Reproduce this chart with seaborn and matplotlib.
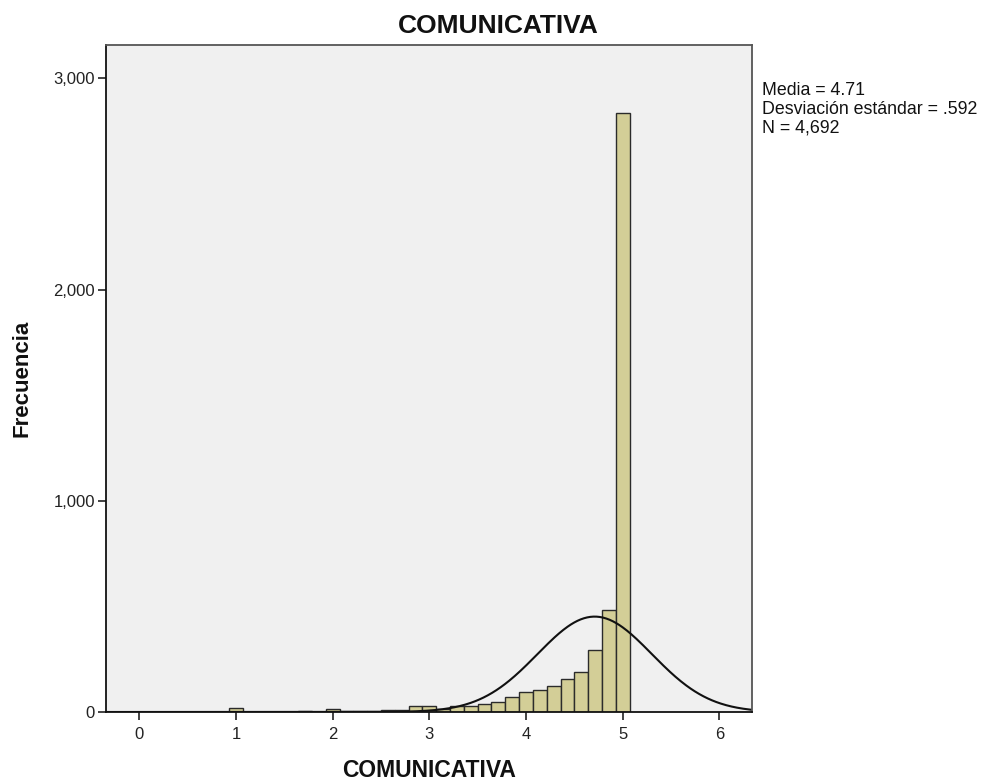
import numpy as np
import pandas as pd
import matplotlib
matplotlib.use("Agg")
import matplotlib.pyplot as plt
import seaborn as sns
from matplotlib.ticker import FuncFormatter

# ---- data ----
# scale scores are multiples of 1/7 from 1 to 5
score_steps = list(range(7, 36))  # k, score = k/7
counts = [21, 1, 1, 2, 2, 3, 2, 12, 3, 4, 7, 8, 10, 28,
          29, 15, 28, 30, 38, 45, 70, 96, 103, 125, 158, 191, 293, 485, 2837]
mean_val = 4.71
sd_val = 0.592
n_val = 4692
x_ticks = [0, 1, 2, 3, 4, 5, 6]
y_ticks = [0, 1000, 2000, 3000]
title_text = "COMUNICATIVA"
x_label = "COMUNICATIVA"
y_label = "Frecuencia"
stats_lines = ["Media = 4.71", "Desviación estándar = .592", "N = 4,692"]

scores = np.array(score_steps) / 7.0
width = 1 / 7.0
edges = [float(e) for e in np.append(scores - width / 2, scores[-1] + width / 2)]
df = pd.DataFrame({"score": scores, "count": np.array(counts, dtype=float)})

sns.set_theme(style="white")
plt.rcParams["font.family"] = ["Liberation Sans", "DejaVu Sans"]

fig = plt.figure(figsize=(9.84, 7.82), dpi=100)
ax = fig.add_axes([106 / 984, 1 - 712 / 782, (752 - 106) / 984, (712 - 45) / 782])
ax.set_facecolor("#F0F0F0")

sns.histplot(data=df, x="score", weights="count", bins=edges, ax=ax,
             color="#D3CE97", edgecolor="#2b2b2b", linewidth=1.0, alpha=1.0)

xmin, xmax = -0.344, 6.337
xs = np.linspace(xmin, xmax, 600)
ys = n_val * width * np.exp(-0.5 * ((xs - mean_val) / sd_val) ** 2) / (sd_val * np.sqrt(2 * np.pi))
ax.plot(xs, ys, color="#111111", linewidth=1.5)

ax.set_xlim(xmin, xmax)
ax.set_ylim(0, 3158)
ax.set_xticks(x_ticks)
ax.set_yticks(y_ticks)
ax.yaxis.set_major_formatter(FuncFormatter(lambda v, p: f"{int(v):,}"))
ax.tick_params(axis="both", which="both", direction="out", length=6, width=1.2,
               color="#222222", labelsize=12, labelcolor="#222222", bottom=True, left=True)
ax.tick_params(axis="x", pad=5)
ax.tick_params(axis="y", pad=2)

for side in ["left", "bottom"]:
    ax.spines[side].set_color("#111111")
    ax.spines[side].set_linewidth(1.3)
for side in ["top", "right"]:
    ax.spines[side].set_color("#555555")
    ax.spines[side].set_linewidth(1.3)

fig.text(498 / 984, 1 - 26 / 782, title_text, fontsize=19, fontweight="bold",
         ha="center", va="center", color="#111111")
ax.set_xlabel(x_label, fontsize=16.5, fontweight="bold", labelpad=12, color="#111111")
ax.set_ylabel(y_label, fontsize=16, fontweight="bold", labelpad=15, color="#111111")

fig.text(762 / 984, 1 - 82 / 782, "\n".join(stats_lines), fontsize=12.8,
         va="top", ha="left", color="#111111", linespacing=1.12)

fig.savefig("out.png", dpi=100, facecolor="white")
